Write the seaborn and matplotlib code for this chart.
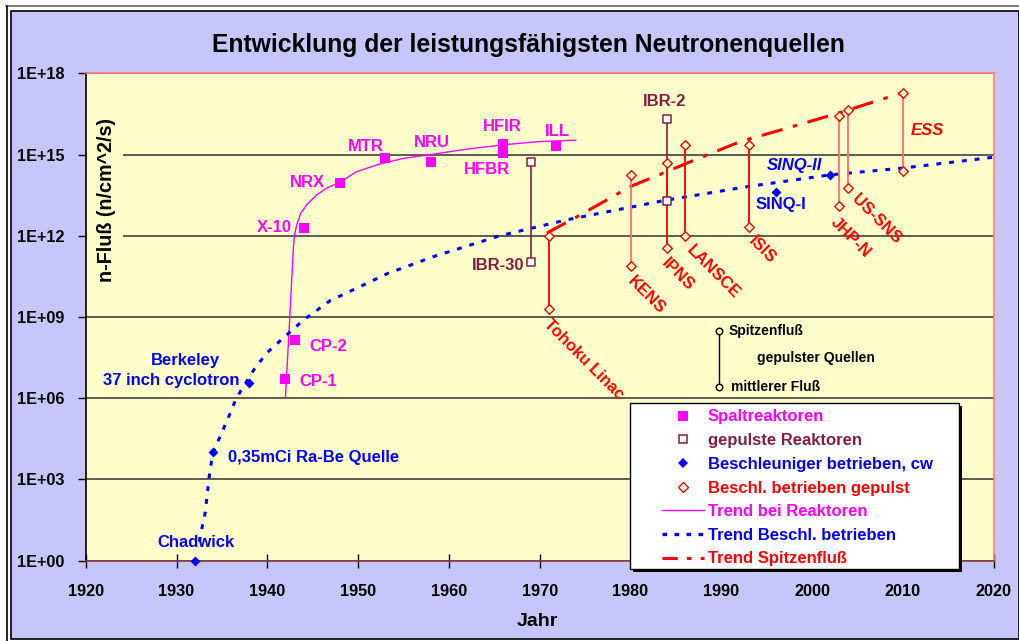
import matplotlib

matplotlib.use("Agg")
import matplotlib.pyplot as plt
import numpy as np
import pandas as pd
import seaborn as sns
from matplotlib.lines import Line2D
from matplotlib.patches import Rectangle
from matplotlib.ticker import NullLocator

# Werte als (Jahr, log10 n-Fluss in n/cm^2/s)
SPALT_NAMES = ["CP-1", "CP-2", "X-10", "NRX", "MTR", "NRU", "HFIR", "HFBR", "ILL"]
SPALT_YEARS = [1942, 1943, 1944, 1948, 1953, 1958, 1966, 1966, 1971.8]
SPALT_LOG = [6.72, 8.16, 12.30, 13.95, 14.88, 14.72, 15.38, 15.04, 15.32]

PULSREAK_NAMES = ["IBR-30", "IBR-2"]
PULSREAK_YEARS = [1969, 1984]
PULSREAK_PEAK = [14.72, 16.32]
PULSREAK_MEAN = [11.03, 13.28]

CW_NAMES = ["Chadwick", "0,35mCi Ra-Be Quelle", "Berkeley", "SINQ-I", "SINQ-II"]
CW_YEARS = [1932, 1934, 1938, 1996, 2002]
CW_LOG = [0.0, 4.0, 6.58, 13.61, 14.25]

PULS_NAMES = ["Tohoku Linac", "KENS", "IPNS", "LANSCE", "ISIS", "JHP-N", "US-SNS", "ESS"]
PULS_YEARS = [1971, 1980, 1984, 1986, 1993, 2003, 2004, 2010]
PULS_PEAK = [12.0, 14.25, 14.68, 15.37, 15.37, 16.44, 16.64, 17.29]
PULS_MEAN = [9.29, 10.89, 11.53, 12.0, 12.32, 13.11, 13.76, 14.40]

TREND_REAK_YEARS = [1942.0, 1942.14, 1942.42, 1942.69, 1942.86, 1942.97, 1943.24, 1943.68,
                    1944.34, 1945.44, 1946.54, 1947.9, 1949.85, 1952.4, 1955, 1958, 1962,
                    1966, 1970, 1974]
TREND_REAK_LOG = [6.02, 6.92, 8.64, 10.37, 11.48, 11.97, 12.40, 12.83, 13.14, 13.51, 13.76,
                  13.96, 14.37, 14.65, 14.86, 15.0, 15.2, 15.36, 15.48, 15.53]

TREND_BESCHL_YEARS = [1932.55, 1932.6, 1933.15, 1933.6, 1934.0, 1934.8, 1935.9, 1936.6,
                      1938.5, 1939.9, 1942.1, 1944.0, 1946.9, 1950.2, 1953.2, 1958.3,
                      1965.6, 1973, 1984, 1993, 2002, 2010, 2020]
TREND_BESCHL_LOG = [0.7, 0.89, 1.75, 3.10, 4.0, 4.58, 5.44, 6.01, 7.04, 7.66, 8.33, 8.89,
                    9.6, 10.12, 10.6, 11.23, 12.0, 12.59, 13.32, 13.82, 14.25, 14.5, 14.9]

TREND_SPITZE_YEARS = [1970.8, 1974.8, 1980.0, 1984.0, 1986.0, 1992.1, 1997.0, 2003.1, 2010.0]
TREND_SPITZE_LOG = [12.1, 12.83, 13.82, 14.37, 14.65, 15.48, 15.95, 16.55, 17.29]

# Schluessel "Spitzenfluss / mittlerer Fluss"
KEY_YEAR = 1989.75
KEY_LOG = [8.50, 6.41]

Y_TICKS_LOG = [0, 3, 6, 9, 12, 15, 18]
Y_TICK_LABELS = ["1E+00", "1E+03", "1E+06", "1E+09", "1E+12", "1E+15", "1E+18"]
X_TICKS = [1920, 1930, 1940, 1950, 1960, 1970, 1980, 1990, 2000, 2010, 2020]

LEGEND_LABELS = ["Spaltreaktoren", "gepulste Reaktoren", "Beschleuniger betrieben, cw",
                 "Beschl. betrieben gepulst", "Trend bei Reaktoren",
                 "Trend Beschl. betrieben", "Trend Spitzenfluß"]

MAGENTA = "#FF00FF"
MAROON = "#80203F"
BLUE = "#0000FF"
RED = "#FF0000"
SALMON = "#FF7070"
LAVENDER = "#C6C6FA"
YELLOW = "#FFFFCC"

BLUE_DOTS = (0, (1.6, 2.6))
RED_DASHDOT = (0, (7, 3.5, 1.5, 3.5))

W, H = 1019, 641


def fx(px):
    return px / W


def fy(py):
    return 1 - py / H


def flux(logs):
    return 10.0 ** np.asarray(logs, dtype=float)


sns.set_theme(style="white")
plt.rcParams["font.family"] = ["Liberation Sans", "DejaVu Sans"]
plt.rcParams["font.weight"] = "bold"

fig = plt.figure(figsize=(W / 100, H / 100), dpi=100)
fig.patch.set_facecolor("white")

# Rahmen des Diagrammbereichs
fig.patches.append(Rectangle((fx(11), fy(639)), 1 - fx(11), (639 - 11) / H,
                             transform=fig.transFigure, facecolor=LAVENDER,
                             edgecolor="black", linewidth=1.2, zorder=-2))
fig.lines.append(Line2D([fx(6), 1], [fy(5.5), fy(5.5)], transform=fig.transFigure,
                        color="#808080", linewidth=1.5, zorder=-1))
fig.lines.append(Line2D([fx(6.5), fx(6.5)], [fy(5.5), 0], transform=fig.transFigure,
                        color="black", linewidth=1.2, zorder=-1))

ax = fig.add_axes([fx(85.7), fy(560.7), (993.7 - 85.7) / W, (560.7 - 73.3) / H])
ax.set_facecolor(YELLOW)
ax.set_yscale("log")
ax.set_xlim(1920, 2020)
ax.set_ylim(1, 1e18)

ax.set_axisbelow(True)
ax.yaxis.grid(True, color="#303030", linewidth=1.1)
ax.xaxis.grid(False)

# Trendlinien
sns.lineplot(x=TREND_REAK_YEARS, y=flux(TREND_REAK_LOG), sort=False, estimator=None,
             color=MAGENTA, linewidth=1.0, ax=ax, zorder=3)
sns.lineplot(x=TREND_BESCHL_YEARS, y=flux(TREND_BESCHL_LOG), sort=False, estimator=None,
             color=BLUE, linewidth=2.2, linestyle=BLUE_DOTS, ax=ax, zorder=3)
sns.lineplot(x=TREND_SPITZE_YEARS, y=flux(TREND_SPITZE_LOG), sort=False, estimator=None,
             color=RED, linewidth=2.2, linestyle=RED_DASHDOT, ax=ax, zorder=3)

# Spitzen- / Mittelwert-Linien
pulse_line_colors = [RED, SALMON, RED, RED, RED, SALMON, SALMON, SALMON]
ax.vlines(PULSREAK_YEARS, flux(PULSREAK_MEAN), flux(PULSREAK_PEAK), color=MAROON,
          linewidth=1.2, zorder=4)
ax.vlines(PULS_YEARS, flux(PULS_MEAN), flux(PULS_PEAK), colors=pulse_line_colors,
          linewidth=1.3, zorder=4)

# Messpunkte
spalt = pd.DataFrame({"Jahr": SPALT_YEARS, "Fluss": flux(SPALT_LOG)})
sns.scatterplot(data=spalt, x="Jahr", y="Fluss", marker="s", s=42, color=MAGENTA,
                edgecolor=MAGENTA, linewidth=0, ax=ax, zorder=6)

pulsreak = pd.DataFrame({"Jahr": PULSREAK_YEARS * 2,
                         "Fluss": flux(PULSREAK_PEAK + PULSREAK_MEAN)})
sns.scatterplot(data=pulsreak, x="Jahr", y="Fluss", marker="s", s=40, color="white",
                edgecolor=MAROON, linewidth=1.1, ax=ax, zorder=6)

cw = pd.DataFrame({"Jahr": CW_YEARS, "Fluss": flux(CW_LOG)})
sns.scatterplot(data=cw, x="Jahr", y="Fluss", marker="D", s=26, color=BLUE,
                edgecolor=BLUE, linewidth=0, ax=ax, zorder=6, clip_on=False)

puls = pd.DataFrame({"Jahr": PULS_YEARS * 2, "Fluss": flux(PULS_PEAK + PULS_MEAN)})
sns.scatterplot(data=puls, x="Jahr", y="Fluss", marker="D", s=24, color=YELLOW,
                edgecolor=RED, linewidth=1.0, ax=ax, zorder=6)

# Schluessel
ax.vlines([KEY_YEAR], flux(KEY_LOG[1]), flux(KEY_LOG[0]), color="black", linewidth=1.0, zorder=4)
sns.scatterplot(x=[KEY_YEAR, KEY_YEAR], y=flux(KEY_LOG), marker="o", s=22, color=YELLOW,
                edgecolor="black", linewidth=1.0, ax=ax, zorder=6)

LBL = dict(fontsize=12, fontweight="bold", zorder=7)


def label(text, year, lg, color, ha="center", **kw):
    ax.text(year, 10 ** lg, text, color=color, ha=ha, va="center", **LBL, **kw)


label("Chadwick", 1932.13, 0.665, BLUE)
label("0,35mCi Ra-Be Quelle", 1935.64, 3.80, BLUE, ha="left")
label("Berkeley", 1931.02, 7.39, BLUE)
label("37 inch cyclotron", 1929.37, 6.65, BLUE)
label("CP-2", 1944.63, 7.905, MAGENTA, ha="left")
label("CP-1", 1943.49, 6.60, MAGENTA, ha="left")
label("X-10", 1942.72, 12.30, MAGENTA, ha="right")
label("NRX", 1944.37, 13.98, MAGENTA)
label("MTR", 1950.85, 15.29, MAGENTA)
label("NRU", 1958.08, 15.44, MAGENTA)
label("HFIR", 1965.85, 16.03, MAGENTA)
label("HFBR", 1964.16, 14.46, MAGENTA)
label("ILL", 1971.96, 15.85, MAGENTA)
label("IBR-30", 1968.27, 10.92, MAROON, ha="right")
label("IBR-2", 1983.8, 16.96, MAROON)
label("SINQ-II", 1998.03, 14.59, BLUE, style="italic")
label("SINQ-I", 1996.56, 13.17, BLUE)
label("ESS", 2012.73, 15.87, RED, style="italic")
label("KENS", 1981.78, 9.815, RED, rotation=-45)
label("IPNS", 1985.18, 10.58, RED, rotation=-45)
label("LANSCE", 1989.12, 10.68, RED, rotation=-45)
label("ISIS", 1994.45, 11.48, RED, rotation=-45)
label("JHP-N", 2004.26, 11.94, RED, rotation=-45)
label("US-SNS", 2007.11, 12.63, RED, rotation=-45)
label("Tohoku Linac", 1974.9, 7.42, RED, rotation=-45)

KEY = dict(fontsize=10, fontweight="bold", color="black", ha="left", va="center", zorder=7)
ax.text(1990.82, 10 ** 8.485, "Spitzenfluß", **KEY)
ax.text(1993.9, 10 ** 7.477, "gepulster Quellen", **KEY)
ax.text(1991.03, 10 ** 6.405, "mittlerer Fluß", **KEY)

# Achsen
ax.set_yticks(flux(Y_TICKS_LOG))
ax.set_yticklabels(Y_TICK_LABELS)
ax.yaxis.set_minor_locator(NullLocator())
ax.set_xticks(X_TICKS)
ax.tick_params(axis="y", direction="out", length=6, width=1, pad=9, labelsize=11.7,
               left=True, colors="black")
ax.tick_params(axis="x", direction="inout", length=10, width=1, pad=11.5, labelsize=11.7,
               bottom=True, colors="black")
for t in ax.get_xticklabels() + ax.get_yticklabels():
    t.set_fontweight("bold")
ax.set_xlabel("")
ax.set_ylabel("")

ax.spines["left"].set_color("black")
ax.spines["bottom"].set_color("#7F3F3F")
ax.spines["top"].set_color("#FF8080")
ax.spines["right"].set_color("#FF8080")
for s in ax.spines.values():
    s.set_linewidth(1.2)

# Y-Beschriftung mit gelbem Hintergrund im Plotbereich
ax.add_patch(Rectangle((0, 0.555), (123 - 85.7) / 908, 0.37, transform=ax.transAxes,
                       facecolor=YELLOW, edgecolor="none", zorder=1.5))
fig.text(fx(106), fy(200), "n-Fluß (n/cm^2/s)", rotation=90, ha="center", va="center",
         fontsize=14.2, fontweight="bold", color="black")

fig.text(fx(528.5), fy(45), "Entwicklung der leistungsfähigsten Neutronenquellen",
         ha="center", va="center", fontsize=17.8, fontweight="bold", color="black")
fig.text(fx(537.7), fy(621), "Jahr", ha="center", va="center", fontsize=14,
         fontweight="bold", color="black")

# Legende
fig.patches.append(Rectangle((fx(633), fy(572.3)), (959.3 - 630) / W, (569.3 - 402.7) / H,
                             transform=fig.transFigure, facecolor="black",
                             edgecolor="none", zorder=8))
fig.patches.append(Rectangle((fx(630), fy(569.3)), (959.3 - 630) / W, (569.3 - 402.7) / H,
                             transform=fig.transFigure, facecolor="white",
                             edgecolor="black", linewidth=1.0, zorder=9))
handles = [
    Line2D([], [], linestyle="none", marker="s", markersize=6.5, color=MAGENTA,
           markeredgewidth=0),
    Line2D([], [], linestyle="none", marker="s", markersize=6, markerfacecolor="white",
           markeredgecolor=MAROON, markeredgewidth=1.1),
    Line2D([], [], linestyle="none", marker="D", markersize=5, color=BLUE,
           markeredgewidth=0),
    Line2D([], [], linestyle="none", marker="D", markersize=5, markerfacecolor="white",
           markeredgecolor=RED, markeredgewidth=1.0),
    Line2D([], [], color=MAGENTA, linewidth=1.0),
    Line2D([], [], color=BLUE, linewidth=2.4, linestyle=(0, (1.4, 2.2))),
    Line2D([], [], color=RED, linewidth=2.2, linestyle=(0, (5, 3, 1.5, 3, 1.5, 3))),
]
leg = fig.legend(handles, LEGEND_LABELS, loc="upper left",
                 bbox_to_anchor=(fx(662), fy(409.5)), frameon=False, borderpad=0,
                 borderaxespad=0, handlelength=2.5, handletextpad=0.26, labelspacing=0.52,
                 prop={"weight": "bold", "size": 12},
                 labelcolor=[MAGENTA, MAROON, BLUE, RED, MAGENTA, BLUE, RED])
leg.set_zorder(10)

fig.savefig("out.png", dpi=100)
